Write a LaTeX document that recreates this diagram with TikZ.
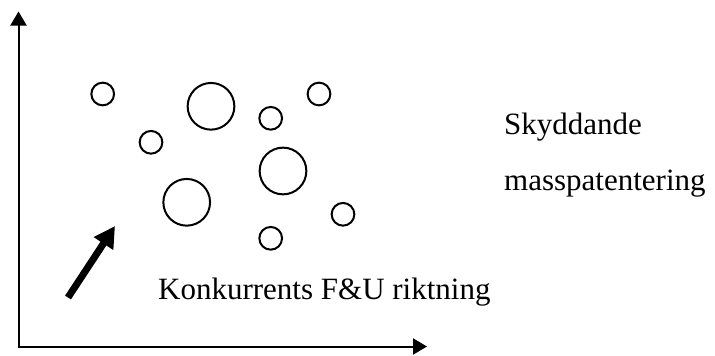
\documentclass[tikz,border=0pt]{standalone}
\usepackage{fontspec}
\setmainfont{Liberation Serif}
\usetikzlibrary{arrows.meta}
\begin{document}
\begin{tikzpicture}[x=1pt,y=-1pt,
  axisline/.style={line width=2pt,line join=miter,
    {Triangle[length=14pt,width=16pt]}-{Triangle[length=14pt,width=16pt]}},
  ring/.style={circle,draw,line width=2pt,inner sep=0pt,minimum size=#1},
  small/.style={ring=22.7pt},
  big/.style={ring=46.7pt},
  txt/.style={anchor=base west,inner sep=0pt,font=\fontsize{31}{37}\selectfont},
  trend/.style={line width=7pt,-{Triangle[length=21pt,width=22pt]}}]
\useasboundingbox (0,0) rectangle (715,356);

% axes
\coordinate (ytip) at (18.5,11.5);
\coordinate (origin) at (18.5,346.5);
\coordinate (xtip) at (427,346.5);
\draw[axisline] (ytip) -- (origin) -- (xtip);

% patents
\node[small] (c1) at (102.7,94) {};
\node[small] (c2) at (151,142.3) {};
\node[small] (c3) at (270.7,118.3) {};
\node[small] (c4) at (319,94) {};
\node[small] (c5) at (343,214.3) {};
\node[small] (c6) at (270.7,238.3) {};
\node[big] (c7) at (211,106.3) {};
\node[big] (c8) at (283,171) {};
\node[big] (c9) at (186.7,202.3) {};

% competitor direction
\coordinate (ftail) at (68,297.5);
\coordinate (fhead) at (115,226);
\draw[trend] (ftail) -- (fhead);

% labels
\node[txt] (t1) at (504,134.7) {Skyddande};
\node[txt] (t2) at (504,190.5) {masspatentering};
\node[txt] (t3) at (158,299.3) {Konkurrents F\&U riktning};
\end{tikzpicture}
\end{document}
